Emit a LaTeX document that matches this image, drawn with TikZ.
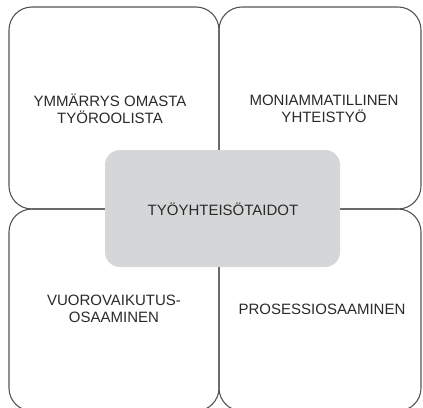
\documentclass[tikz,border=0pt]{standalone}
\usepackage{fontspec}
\setmainfont{Liberation Sans}
\definecolor{edge}{HTML}{555555}
\definecolor{hub}{HTML}{D5D6D7}
\definecolor{ink}{HTML}{2A2A2A}
\begin{document}
\begin{tikzpicture}[x=1pt,y=-1pt,
  quad/.style={draw=edge,line width=1.1pt,rounded corners=23pt},
  hubbox/.style={fill=hub,rounded corners=15pt},
  lbl/.style={text=ink,font=\fontsize{15}{16.5}\selectfont,align=center,inner sep=0pt}]
\useasboundingbox (0,0) rectangle (423,407);
\draw[quad] (9,7) rectangle (219,209);
\draw[quad] (219,7) rectangle (421,209);
\draw[quad] (9,209) rectangle (219,411);
\draw[quad] (219,209) rectangle (421,411);
\fill[hubbox] (105,150) rectangle (340,267);
\node[lbl] (a) at (110,109) {YMMÄRRYS OMASTA\\TYÖROOLISTA};
\node[lbl] (b) at (324,109) {MONIAMMATILLINEN\\YHTEISTYÖ};
\node[lbl] (c) at (114,309) {VUOROVAIKUTUS-\\OSAAMINEN};
\node[lbl] (d) at (322,309) {PROSESSIOSAAMINEN};
\node[lbl] (e) at (223,209) {TYÖYHTEISÖTAIDOT};
\end{tikzpicture}
\end{document}
